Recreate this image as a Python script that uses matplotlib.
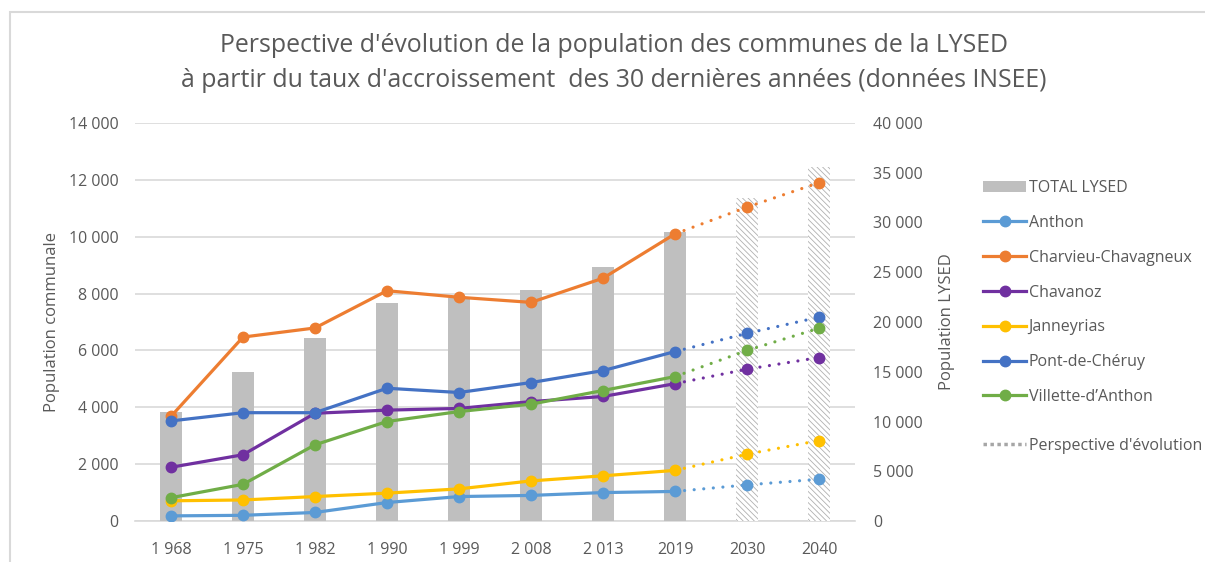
import numpy as np
import matplotlib
matplotlib.use("Agg")
import matplotlib.pyplot as plt
from matplotlib.lines import Line2D
from matplotlib.patches import Patch, Rectangle

plt.rcParams['font.family'] = ['Open Sans', 'DejaVu Sans']
plt.rcParams['hatch.linewidth'] = 0.6

# ---------------- data ----------------
years = ["1 968", "1 975", "1 982", "1 990", "1 999", "2 008", "2 013", "2019", "2030", "2040"]
n_hist = 8  # first 8 are observed, the rest are projections

total_lysed = [10950, 15000, 18400, 21950, 22400, 23200, 25500, 29000, 32450, 35600]

anthon      = [180, 200, 300, 650, 860, 900, 1000, 1040, 1270, 1470]
charvieu    = [3680, 6470, 6790, 8100, 7870, 7690, 8540, 10100, 11040, 11900]
chavanoz    = [1890, 2330, 3790, 3900, 3960, 4200, 4380, 4830, 5340, 5750]
janneyrias  = [710, 740, 860, 980, 1130, 1410, 1590, 1780, 2350, 2830]
pont        = [3520, 3810, 3810, 4670, 4520, 4870, 5290, 5960, 6600, 7170]
villette    = [820, 1290, 2680, 3500, 3850, 4110, 4590, 5080, 6000, 6780]

series_names = ["Anthon", "Charvieu-Chavagneux", "Chavanoz", "Janneyrias",
                "Pont-de-Chéruy", "Villette-d’Anthon"]
series_values = [anthon, charvieu, chavanoz, janneyrias, pont, villette]
series_colors = ["#5B9BD5", "#ED7D31", "#7030A0", "#FFC000", "#4472C4", "#70AD47"]

left_ticks = list(range(0, 14001, 2000))
right_ticks = list(range(0, 40001, 5000))

title = ("Perspective d'évolution de la population des communes de la LYSED\n"
         "à partir du taux d'accroissement  des 30 dernières années (données INSEE)")

# ---------------- figure ----------------
W, H = 1205, 562
fig = plt.figure(figsize=(W / 100, H / 100), dpi=100)
txt = "#595959"
grid_c = "#D9D9D9"

pos = [135 / W, (H - 521) / H, 720 / W, 398 / H]
ax = fig.add_axes(pos)
ax2 = ax.twinx()
ax3 = fig.add_axes(pos, sharex=ax, sharey=ax)
ax3.set_zorder(ax2.get_zorder() + 1)
ax3.axis('off')

x = np.arange(len(years))

# left axis: grid + ticks
ax.set_ylim(0, 14000)
ax.set_xlim(-0.5, len(years) - 0.5)
ax.set_yticks(left_ticks)
ax.set_yticklabels([f"{v:,}".replace(",", " ") for v in left_ticks])
ax.grid(axis='y', color=grid_c, lw=1.2)
ax.set_axisbelow(True)
ax.set_xticks(x)
ax.set_xticklabels(years)
for s in ['top', 'right', 'left']:
    ax.spines[s].set_visible(False)
ax.spines['bottom'].set_color(grid_c)
ax.spines['bottom'].set_linewidth(1.2)
ax.tick_params(axis='both', length=0, colors=txt, labelsize=11.5)
ax.tick_params(axis='y', pad=12)
ax.tick_params(axis='x', pad=15)
ax.set_ylabel("Population communale", color=txt, fontsize=12, labelpad=6)

# right axis: bars
ax2.set_ylim(0, 40000)
ax2.set_yticks(right_ticks)
ax2.set_yticklabels([f"{v:,}".replace(",", " ") for v in right_ticks])
for s in ax2.spines.values():
    s.set_visible(False)
ax2.tick_params(axis='y', length=0, colors=txt, labelsize=11.5, pad=13)
ax2.set_ylabel("Population LYSED", color=txt, fontsize=12, labelpad=12)

bw = 0.31
ax2.bar(x[:n_hist], total_lysed[:n_hist], width=bw, color="#BFBFBF", linewidth=0)
ax2.bar(x[n_hist:], total_lysed[n_hist:], width=bw, facecolor="white",
        edgecolor="#B0B0B0", hatch="\\\\\\\\\\\\", linewidth=0)

# lines
lw = 2.3
ms = 7.5
for vals, c in zip(series_values, series_colors):
    ax3.plot(x[n_hist - 1:], vals[n_hist - 1:], color=c, lw=lw,
             linestyle=(0, (0.01, 3.0)), dash_capstyle='round')
    ax3.plot(x[n_hist:], vals[n_hist:], 'o', color=c, ms=ms)
    ax3.plot(x[:n_hist], vals[:n_hist], '-o', color=c, lw=lw, ms=ms,
             solid_capstyle='round', solid_joinstyle='round')

# legends
handles = [Patch(facecolor="#BFBFBF", edgecolor="none", label="TOTAL LYSED")]
for name, c in zip(series_names, series_colors):
    handles.append(Line2D([], [], color=c, lw=lw, marker='o', ms=ms, label=name))
leg = fig.legend(handles=handles, loc='upper left',
                 bbox_to_anchor=(983 / W, 1 - 180 / H), frameon=False,
                 fontsize=11.5, labelcolor=txt, handlelength=2.7,
                 handletextpad=0.15, labelspacing=1.18, borderaxespad=0,
                 borderpad=0)
leg2 = fig.legend(handles=[Line2D([], [], color="#A6A6A6", lw=2.5,
                                  linestyle=(0, (1.0, 1.0)))],
                  labels=["Perspective d'évolution"], loc='upper left',
                  bbox_to_anchor=(983 / W, 1 - 438 / H), frameon=False,
                  fontsize=11.5, labelcolor=txt, handlelength=2.7,
                  handletextpad=0.15, borderaxespad=0, borderpad=0)

# title
fig.text(614 / W, 1 - 63 / H, title, ha='center', va='center',
         fontsize=17.9, color=txt, linespacing=1.5)

# chart-area frame
fig.add_artist(Rectangle((10 / W, -0.2), 1.5, (H - 12) / H + 0.2,
                         transform=fig.transFigure, fill=False,
                         edgecolor=grid_c, lw=1.5))

fig.savefig("out.png", dpi=100)
